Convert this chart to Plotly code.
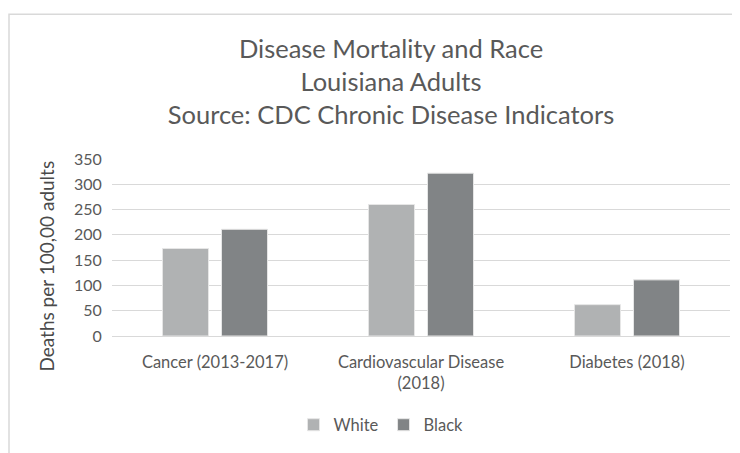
import plotly.graph_objects as go

categories = ["Cancer (2013-2017)", "Cardiovascular Disease<br>(2018)", "Diabetes (2018)"]
white_values = [173, 260, 62]
black_values = [211, 322, 111]
y_ticks = [0, 50, 100, 150, 200, 250, 300, 350]
y_title = "Deaths per 100,00 adults"

FONT = "Lato, Open Sans, sans-serif"
TXT = "#595959"

W, H = 732, 445
L, R, T, B = 104, 10, 151, 113
PH = H - T - B
PW = W - L - R

fig = go.Figure()
fig.add_trace(go.Bar(name="White", x=categories, y=white_values,
                     marker=dict(color="#b0b2b3", line=dict(color="#e6e6e6", width=1))))
fig.add_trace(go.Bar(name="Black", x=categories, y=black_values,
                     marker=dict(color="#818486", line=dict(color="#e6e6e6", width=1))))

fig.update_layout(
    width=W, height=H,
    margin=dict(l=L, r=R, t=T, b=B),
    paper_bgcolor="white", plot_bgcolor="white",
    barmode="group", bargap=0.427, bargroupgap=0.22,
    font=dict(family=FONT, color=TXT, size=16),
    title=dict(
        text="Disease Mortality and Race<br>Louisiana Adults<br>Source: CDC Chronic Disease Indicators",
        x=383 / W, xanchor="center", xref="container",
        y=1 - 50 / H, yanchor="middle", yref="container",
        font=dict(family=FONT, size=25.5, color=TXT),
    ),
    showlegend=True,
    legend=dict(orientation="h", x=(373 - L) / PW, xanchor="center",
                y=(T + PH - 423) / PH, yanchor="middle",
                font=dict(size=16.5, color=TXT), traceorder="normal",
                itemwidth=30, bgcolor="rgba(0,0,0,0)"),
    xaxis=dict(showgrid=False, showline=True, linecolor="#d9d9d9", linewidth=1,
               tickfont=dict(size=16.5, color=TXT), ticks="outside", ticklen=11,
               tickcolor="rgba(0,0,0,0)"),
    yaxis=dict(range=[0, 350], tickvals=y_ticks, showgrid=True, gridcolor="#d9d9d9",
               gridwidth=1, zeroline=False, showline=False, ticks="outside", ticklen=6,
               tickcolor="rgba(0,0,0,0)",
               tickfont=dict(size=16, color=TXT)),
    annotations=[dict(text=y_title, textangle=-90, xref="paper", yref="paper",
                      x=(39 - L) / PW, y=(T + PH - 261) / PH, xanchor="center", yanchor="middle",
                      showarrow=False, font=dict(size=19, color="#4a4a4a", family=FONT))],
    shapes=[dict(type="rect", xref="paper", yref="paper",
                 x0=(1 - L) / PW, x1=(W + 20 - L) / PW,
                 y0=(T + PH - (H + 20)) / PH, y1=(T + PH - 3) / PH,
                 line=dict(color="#d9d9d9", width=1.5), fillcolor="rgba(0,0,0,0)", layer="below")],
)

fig.write_html("out.html")
